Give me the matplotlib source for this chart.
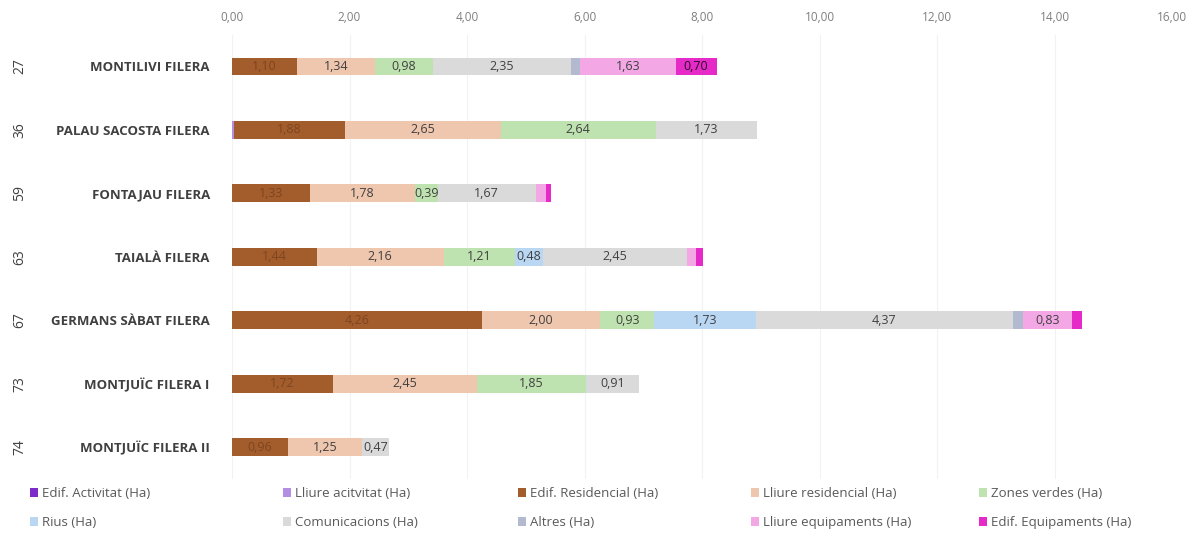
import numpy as np
import matplotlib.pyplot as plt
import matplotlib.transforms as mtransforms

# Dades
codis = ['27', '36', '59', '63', '67', '73', '74']
filera = ['MONTILIVI FILERA', 'PALAU SACOSTA FILERA', 'FONTAJAU FILERA', 'TAIALÀ FILERA',
          'GERMANS SÀBAT FILERA', 'MONTJUÏC FILERA I', 'MONTJUÏC FILERA II']

series_noms = ['Edif. Activitat (Ha)', 'Lliure acitvitat (Ha)', 'Edif. Residencial (Ha)',
               'Lliure residencial (Ha)', 'Zones verdes (Ha)', 'Rius (Ha)',
               'Comunicacions (Ha)', 'Altres (Ha)', 'Lliure equipaments (Ha)',
               'Edif. Equipaments (Ha)']

edif_activitat = [0.00, 0.00, 0.00, 0.00, 0.00, 0.00, 0.00]
lliure_activitat = [0.00, 0.04, 0.00, 0.00, 0.00, 0.00, 0.00]
edif_residencial = [1.10, 1.88, 1.33, 1.44, 4.26, 1.72, 0.96]
lliure_residencial = [1.34, 2.65, 1.78, 2.16, 2.00, 2.45, 1.25]
zones_verdes = [0.98, 2.64, 0.39, 1.21, 0.93, 1.85, 0.00]
rius = [0.00, 0.00, 0.00, 0.48, 1.73, 0.00, 0.00]
comunicacions = [2.35, 1.73, 1.67, 2.45, 4.37, 0.91, 0.47]
altres = [0.15, 0.00, 0.00, 0.00, 0.18, 0.00, 0.00]
lliure_equipaments = [1.63, 0.00, 0.18, 0.15, 0.83, 0.00, 0.00]
edif_equipaments = [0.70, 0.00, 0.08, 0.12, 0.17, 0.00, 0.00]

colors = ['#7B2CC9', '#B48EE0', '#A35D2C', '#EFC6AE', '#BFE3B0', '#B9D6F2',
          '#DADADA', '#B3BACF', '#F3A8E5', '#E62AC8']
label_colors = ['#404040', '#404040', '#7E4520', '#404040', '#404040', '#404040',
                '#404040', '#404040', '#404040', '#2a0a25']

plt.rcParams['font.family'] = ['Open Sans', 'DejaVu Sans']

series = [edif_activitat, lliure_activitat, edif_residencial, lliure_residencial,
          zones_verdes, rius, comunicacions, altres, lliure_equipaments, edif_equipaments]

fig = plt.figure(figsize=(11.96, 5.35), dpi=100)
ax = fig.add_axes([0.194, 0.105, 0.786, 0.83])

y = np.arange(len(filera))
left = np.zeros(len(filera))
handles = []
for nom, vals, c, lc in zip(series_noms, series, colors, label_colors):
    vals = np.array(vals)
    h = ax.barh(y, vals, left=left, height=0.28, color=c, label=nom, zorder=3)
    handles.append(h)
    for yi, (l, v) in enumerate(zip(left, vals)):
        if v >= 0.3:
            ax.text(l + v / 2, yi, f"{v:.2f}".replace('.', ','), ha='center', va='center',
                    fontsize=9, color=lc, zorder=4)
    left += vals

ax.set_xlim(0, 16)
ax.set_ylim(len(filera) - 0.5, -0.5)
ax.set_xticks(np.arange(0, 17, 2))
ax.set_xticklabels([f"{v:.2f}".replace('.', ',') for v in np.arange(0, 17, 2)])
ax.xaxis.tick_top()
ax.tick_params(axis='x', length=0, labelsize=8.5, labelcolor='#7f7f7f', pad=8)
ax.set_yticks(y)
ax.set_yticklabels(filera, fontsize=9.5, fontweight='bold', color='#404040')
ax.tick_params(axis='y', length=0, pad=16)
ax.grid(axis='x', color='#f2f2f2', linewidth=0.8, zorder=0)
for s in ax.spines.values():
    s.set_visible(False)

# codis a l'esquerra, girats
trans = mtransforms.blended_transform_factory(fig.transFigure, ax.transData)
for yi, c in zip(y, codis):
    ax.text(20 / 1196, yi, c, rotation=90, ha='center', va='center', fontsize=10,
            color='#404040', transform=trans, clip_on=False)

# llegenda: 5 columnes d'amplada igual, 2 files
col_x = [0.020, 0.232, 0.428, 0.623, 0.814]
for k, x0 in enumerate(col_x):
    idx = [k, k + 5]
    leg = fig.legend([handles[i] for i in idx], [series_noms[i] for i in idx],
                     loc='lower left', bbox_to_anchor=(x0, 0.0), frameon=False,
                     fontsize=9.5, labelcolor='#595959', handlelength=0.6,
                     handleheight=0.6, handletextpad=0.3, borderaxespad=0.05,
                     labelspacing=1.2)

fig.savefig('out.png', dpi=100, facecolor='white')
